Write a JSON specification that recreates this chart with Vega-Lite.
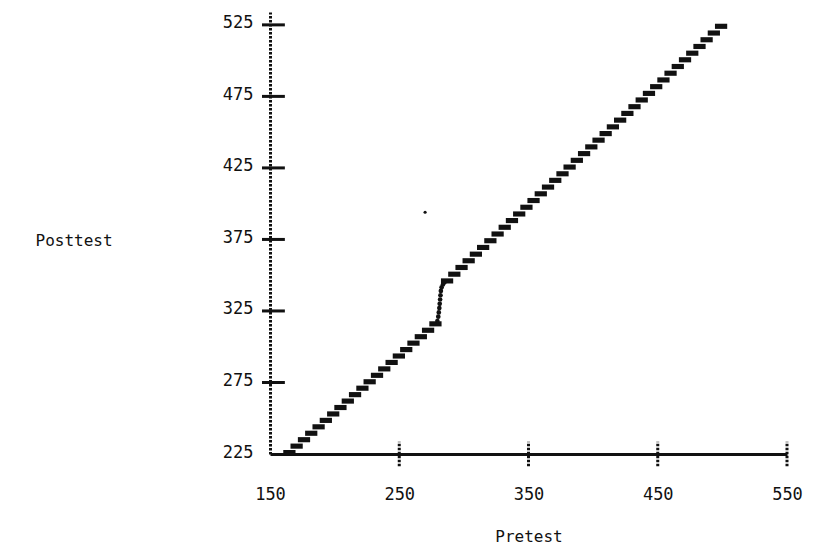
{
  "$schema": "https://vega.github.io/schema/vega-lite/v6.json",
  "width": 517,
  "height": 442,
  "autosize": {"type": "none"},
  "padding": {"left": 270, "top": 12, "right": 37, "bottom": 91},
  "background": "white",
  "config": {
    "view": {"stroke": null},
    "font": "DejaVu Sans Mono",
    "axisX": {
      "ticks": false, "grid": false, "labelFlush": false,
      "domainColor": "#111", "domainWidth": 3,
      "labelFont": "DejaVu Sans Mono", "labelFontSize": 17, "labelColor": "#111", "labelPadding": 32,
      "titleFont": "DejaVu Sans Mono", "titleFontSize": 16, "titleFontWeight": "normal", "titleColor": "#111",
      "titleY": 82, "titleBaseline": "middle"
    },
    "axisY": {
      "ticks": false, "grid": false, "labelFlush": false,
      "domainColor": "#111", "domainWidth": 3, "domainDash": [2.5, 1.5],
      "labelFont": "DejaVu Sans Mono", "labelFontSize": 17, "labelColor": "#111", "labelPadding": 17, "labelOffset": -2,
      "titleFont": "DejaVu Sans Mono", "titleFontSize": 16, "titleFontWeight": "normal", "titleColor": "#111",
      "titleAngle": 0, "titleX": -235, "titleY": 228, "titleAlign": "left", "titleBaseline": "middle"
    }
  },
  "datasets": {
    "line": [
      {"pre": 165, "post": 226}, {"pre": 170.6, "post": 230.5}, {"pre": 176.3, "post": 235}, {"pre": 181.9, "post": 239.5},
      {"pre": 187.6, "post": 244}, {"pre": 193.2, "post": 248.5}, {"pre": 198.9, "post": 253}, {"pre": 204.5, "post": 257.5},
      {"pre": 210.2, "post": 262}, {"pre": 215.8, "post": 266.5}, {"pre": 221.5, "post": 271}, {"pre": 227.1, "post": 275.5},
      {"pre": 232.8, "post": 280}, {"pre": 238.4, "post": 284.5}, {"pre": 244.1, "post": 289}, {"pre": 249.7, "post": 293.5},
      {"pre": 255.4, "post": 298}, {"pre": 261, "post": 302.5}, {"pre": 266.7, "post": 307}, {"pre": 272.3, "post": 311.5},
      {"pre": 278, "post": 316},
      {"pre": 287, "post": 346}, {"pre": 292.6, "post": 350.7}, {"pre": 298.2, "post": 355.4}, {"pre": 303.7, "post": 360.1},
      {"pre": 309.3, "post": 364.7}, {"pre": 314.9, "post": 369.4}, {"pre": 320.5, "post": 374.1}, {"pre": 326.1, "post": 378.8},
      {"pre": 331.6, "post": 383.5}, {"pre": 337.2, "post": 388.2}, {"pre": 342.8, "post": 392.8}, {"pre": 348.4, "post": 397.5},
      {"pre": 353.9, "post": 402.2}, {"pre": 359.5, "post": 406.9}, {"pre": 365.1, "post": 411.6}, {"pre": 370.7, "post": 416.3},
      {"pre": 376.3, "post": 420.9}, {"pre": 381.8, "post": 425.6}, {"pre": 387.4, "post": 430.3}, {"pre": 393, "post": 435},
      {"pre": 398.6, "post": 439.7}, {"pre": 404.2, "post": 444.4}, {"pre": 409.7, "post": 449}, {"pre": 415.3, "post": 453.7},
      {"pre": 420.9, "post": 458.4}, {"pre": 426.5, "post": 463.1}, {"pre": 432, "post": 467.8}, {"pre": 437.6, "post": 472.5},
      {"pre": 443.2, "post": 477.1}, {"pre": 448.8, "post": 481.8}, {"pre": 454.4, "post": 486.5}, {"pre": 459.9, "post": 491.2},
      {"pre": 465.5, "post": 495.9}, {"pre": 471.1, "post": 500.6}, {"pre": 476.7, "post": 505.2}, {"pre": 482.3, "post": 509.9},
      {"pre": 487.8, "post": 514.6}, {"pre": 493.4, "post": 519.3}, {"pre": 499, "post": 524}
    ],
    "jump": [
      {"pre": 279.5, "post": 318}, {"pre": 280.2, "post": 321}, {"pre": 280.6, "post": 324}, {"pre": 281, "post": 327},
      {"pre": 281.3, "post": 330}, {"pre": 281.6, "post": 333}, {"pre": 281.9, "post": 336}, {"pre": 282.2, "post": 339},
      {"pre": 282.8, "post": 341.5}, {"pre": 283.8, "post": 343.5}, {"pre": 285, "post": 345}
    ],
    "stray": [{"pre": 270, "post": 394}],
    "xticks": [{"pre": 250}, {"pre": 350}, {"pre": 450}, {"pre": 550}],
    "yticks": [{"post": 275}, {"post": 325}, {"post": 375}, {"post": 425}, {"post": 475}, {"post": 525}]
  },
  "layer": [
    {
      "data": {"name": "line"},
      "mark": {"type": "point", "shape": "M-1,-0.42H1V0.42H-1Z", "filled": true, "color": "#111", "size": 150, "opacity": 1},
      "encoding": {
        "x": {"field": "pre", "type": "quantitative", "title": "Pretest", "scale": {"domain": [150, 550], "nice": false, "zero": false}, "axis": {"values": [150, 250, 350, 450, 550]}},
        "y": {"field": "post", "type": "quantitative", "title": "Posttest", "scale": {"domain": [225, 534], "nice": false, "zero": false}, "axis": {"values": [225, 275, 325, 375, 425, 475, 525]}}
      }
    },
    {
      "data": {"name": "jump"},
      "mark": {"type": "circle", "color": "#111", "size": 22, "opacity": 1},
      "encoding": {
        "x": {"field": "pre", "type": "quantitative", "title": "Pretest", "scale": {"domain": [150, 550], "nice": false, "zero": false}, "axis": {"values": [150, 250, 350, 450, 550]}},
        "y": {"field": "post", "type": "quantitative", "title": "Posttest", "scale": {"domain": [225, 534], "nice": false, "zero": false}, "axis": {"values": [225, 275, 325, 375, 425, 475, 525]}}
      }
    },
    {
      "data": {"name": "stray"},
      "mark": {"type": "circle", "color": "#111", "size": 10, "opacity": 1},
      "encoding": {
        "x": {"field": "pre", "type": "quantitative", "title": "Pretest", "scale": {"domain": [150, 550], "nice": false, "zero": false}, "axis": {"values": [150, 250, 350, 450, 550]}},
        "y": {"field": "post", "type": "quantitative", "title": "Posttest", "scale": {"domain": [225, 534], "nice": false, "zero": false}, "axis": {"values": [225, 275, 325, 375, 425, 475, 525]}}
      }
    },
    {
      "data": {"name": "xticks"},
      "mark": {"type": "rule", "color": "#111", "strokeWidth": 3, "strokeDash": [2.5, 1.5]},
      "encoding": {
        "x": {"field": "pre", "type": "quantitative", "title": "Pretest", "scale": {"domain": [150, 550], "nice": false, "zero": false}, "axis": {"values": [150, 250, 350, 450, 550]}},
        "y": {"datum": 216.5, "type": "quantitative", "title": "Posttest", "scale": {"domain": [225, 534], "nice": false, "zero": false}, "axis": {"values": [225, 275, 325, 375, 425, 475, 525]}},
        "y2": {"datum": 233.5}
      }
    },
    {
      "data": {"name": "yticks"},
      "mark": {"type": "rule", "color": "#111", "strokeWidth": 3},
      "encoding": {
        "y": {"field": "post", "type": "quantitative", "title": "Posttest", "scale": {"domain": [225, 534], "nice": false, "zero": false}, "axis": {"values": [225, 275, 325, 375, 425, 475, 525]}},
        "x": {"datum": 143.8, "type": "quantitative", "title": "Pretest", "scale": {"domain": [150, 550], "nice": false, "zero": false}, "axis": {"values": [150, 250, 350, 450, 550]}},
        "x2": {"datum": 161.5}
      }
    }
  ]
}
